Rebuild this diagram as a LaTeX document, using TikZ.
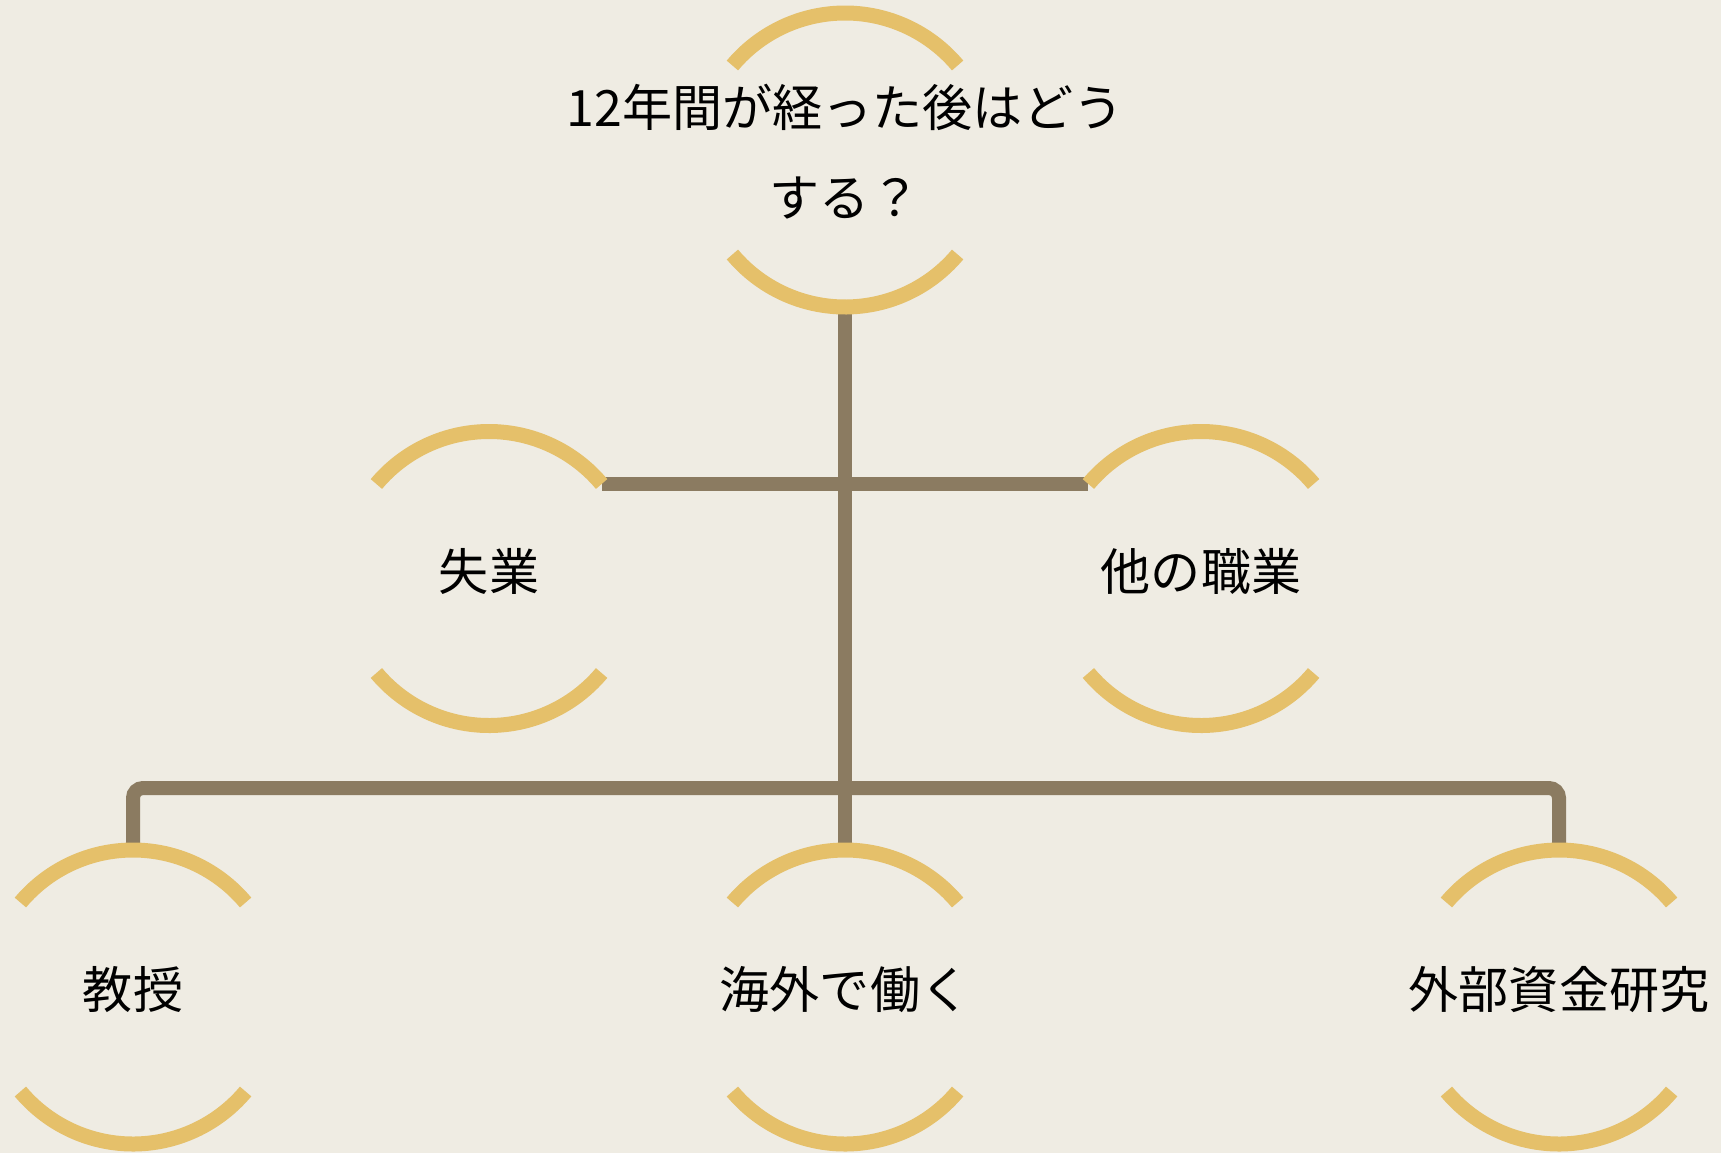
\documentclass[tikz,border=0pt]{standalone}
\usepackage{fontspec}
\newfontfamily\jpfont{Noto Sans CJK JP}
\usepackage{tikz}
\usetikzlibrary{positioning}
\definecolor{paper}{RGB}{239,236,227}
\definecolor{gold}{RGB}{229,192,106}
\definecolor{bark}{RGB}{139,123,97}
\newcommand{\bubrad}{2.94}

\begin{document}
\begin{tikzpicture}[font=\jpfont]
        % Setup the styles for the bubbles and the links
        \tikzset{node style/.style={align=center,
                                    inner sep=0pt,
                                    text depth=0.38cm,
                                    font=\jpfont\fontsize{28.5}{51}\selectfont},
                 ring style/.style={draw=gold, line width=0.3cm},
                 link style/.style={draw=bark, line width=0.28cm}}

        % Background
        \fill[paper] (0, 0) rectangle (34.42, -23.06);
        \useasboundingbox (0, 0) rectangle (34.42, -23.06);

        % Draw the bubbles
        \node[node style] at (16.9, -3.2)    (after)   {12年間が経った後はどう\\する？};
        \node[node style] at (9.78, -11.57)  (jobless) {失業};
        \node[node style] at (24.02, -11.57) (other)   {他の職業};
        \node[node style] at (2.66, -19.94)  (prof)    {教授};
        \node[node style] at (16.9, -19.94)  (abroad)  {海外で働く};
        \node[node style] at (31.18, -19.94) (grant)   {外部資金研究};

        % Connect the bubbles
        \draw[link style] ([yshift=-\bubrad cm]after.center) -- ([yshift=\bubrad cm]abroad.center);
        \draw[link style] ([shift={(40:\bubrad)}]jobless.center) -- ([shift={(140:\bubrad)}]other.center);
        \draw[link style, rounded corners=0.2cm] ([yshift=\bubrad cm]prof.center) -- ++(0, 1.24) -| ([yshift=\bubrad cm]grant.center);

        % Draw the open rings round the bubbles
        \foreach \n in {after, jobless, other, prof, abroad, grant} {
            \draw[ring style] ([shift={(40:\bubrad)}]\n.center) arc[start angle=40, end angle=140, radius=\bubrad];
            \draw[ring style] ([shift={(220:\bubrad)}]\n.center) arc[start angle=220, end angle=320, radius=\bubrad];
        }
\end{tikzpicture}
\end{document}
